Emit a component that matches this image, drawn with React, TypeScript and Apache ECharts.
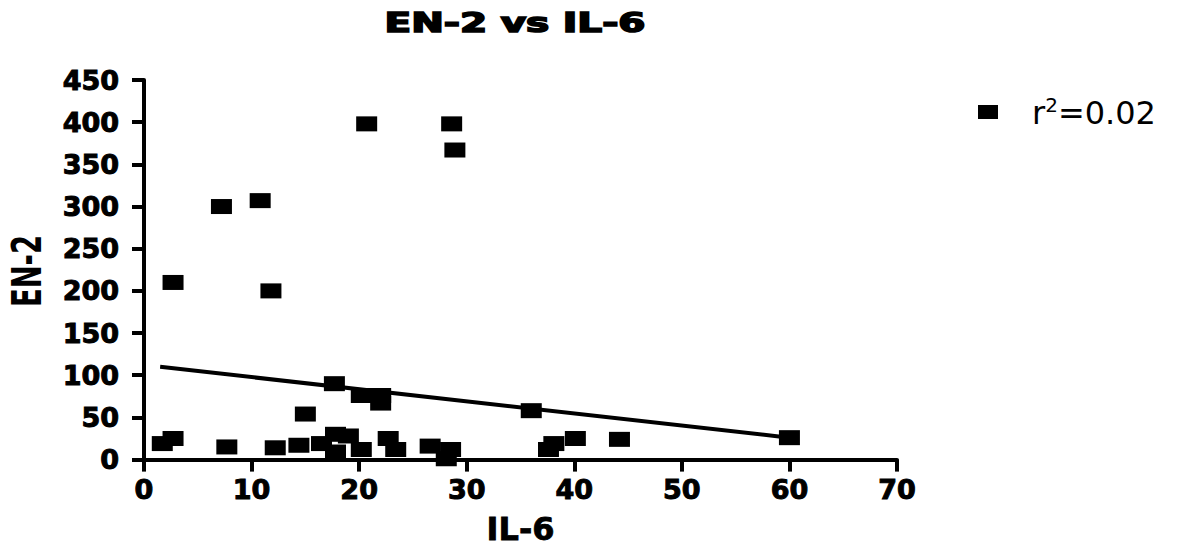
import React, { useEffect, useRef } from "react";
import * as echarts from "echarts";

const titleText = "EN-2 vs IL-6";
const xName = "IL-6";
const yName = "EN-2";
const legendLabel = "r²=0.02";

const il6 = [
  7.2, 10.8, 2.7, 11.8, 20.7, 28.6, 28.9, 17.7, 15.0, 20.2, 22.0, 22.0, 36.0, 60.0,
  1.7, 2.7, 7.7, 12.2, 14.4, 16.5, 17.8, 19.0, 17.8, 20.2, 22.7, 23.4, 26.6, 28.5,
  28.1, 37.6, 38.1, 40.1, 44.2,
];
const en2 = [
  300, 307, 210, 200, 398, 398, 367, 90, 54, 76, 76, 67, 58, 26,
  19, 25, 15, 14, 17, 19, 30, 28, 9, 12, 25, 12, 16, 12,
  1, 12, 19, 25, 24,
];
const fitX = [1.5, 60];
const fitY = [110, 26];

export default function App() {
  const ref = useRef<HTMLDivElement>(null);
  useEffect(() => {
    if (!ref.current) return;
    document.body.style.margin = "0";
    const chart = echarts.init(ref.current, undefined, { renderer: "svg" });
    const font = "'DejaVu Sans', 'Liberation Sans', Arial, sans-serif";
    chart.setOption({
      animation: false,
      backgroundColor: "#ffffff",
      graphic: [
        {
          type: "text",
          x: 515,
          y: 23,
          scaleX: 1.5,
          style: {
            text: titleText,
            fontFamily: font,
            fontWeight: "bold",
            fontSize: 26,
            fill: "#000",
            stroke: "#000",
            lineWidth: 1.6,
            align: "center",
            verticalAlign: "middle",
          },
        },
        {
          type: "text",
          x: 27,
          y: 271,
          rotation: Math.PI / 2,
          scaleX: 0.67,
          style: {
            text: yName,
            fontFamily: font,
            fontWeight: "bold",
            fontSize: 41,
            fill: "#000",
            align: "center",
            verticalAlign: "middle",
          },
        },
      ],
      legend: {
        left: 973,
        top: 90,
        icon: "rect",
        itemWidth: 20,
        itemHeight: 14,
        data: [legendLabel],
        formatter: () => "{b|r}{s|2}{b|=0.02}",
        textStyle: {
          fontFamily: font,
          color: "#000",
          padding: [0, 0, 0, 29],
          rich: {
            b: { fontFamily: font, fontSize: 32, color: "#000", verticalAlign: "bottom", lineHeight: 34 },
            s: { fontFamily: font, fontSize: 20, color: "#000", verticalAlign: "top", lineHeight: 34, padding: [0, 0, 10, 0] },
          },
        },
      },
      grid: { left: 144, right: 289, top: 80, bottom: 89 },
      xAxis: {
        type: "value",
        min: 0,
        max: 70,
        interval: 10,
        name: xName,
        nameLocation: "middle",
        nameGap: 53,
        nameTextStyle: {
          fontFamily: font, fontWeight: "bold", fontSize: 32, color: "#000",
          textBorderColor: "#000", textBorderWidth: 0.8,
        },
        axisLine: { lineStyle: { color: "#000", width: 4 } },
        axisTick: { length: 12, lineStyle: { color: "#000", width: 4 } },
        axisLabel: {
          fontFamily: font, fontWeight: "bold", fontSize: 27, color: "#000", margin: 16,
          textBorderColor: "#000", textBorderWidth: 1,
        },
        splitLine: { show: false },
      },
      yAxis: {
        type: "value",
        min: 0,
        max: 450,
        interval: 50,
        axisLine: { lineStyle: { color: "#000", width: 4 } },
        axisTick: { length: 12, lineStyle: { color: "#000", width: 4 } },
        axisLabel: {
          fontFamily: font, fontWeight: "bold", fontSize: 27, color: "#000", margin: 25,
          textBorderColor: "#000", textBorderWidth: 1,
        },
        splitLine: { show: false },
      },
      series: [
        {
          type: "line",
          data: fitX.map((x, i) => [x, fitY[i]]),
          showSymbol: false,
          symbol: "none",
          lineStyle: { color: "#000", width: 4 },
          silent: true,
          z: 1,
        },
        {
          name: legendLabel,
          type: "scatter",
          symbol: "rect",
          symbolSize: [21, 15],
          itemStyle: { color: "#000", opacity: 1 },
          data: il6.map((x, i) => [x, en2[i]]),
          z: 2,
        },
      ],
    });
    return () => chart.dispose();
  }, []);
  return <div ref={ref} style={{ width: 1186, height: 550 }} />;
}
